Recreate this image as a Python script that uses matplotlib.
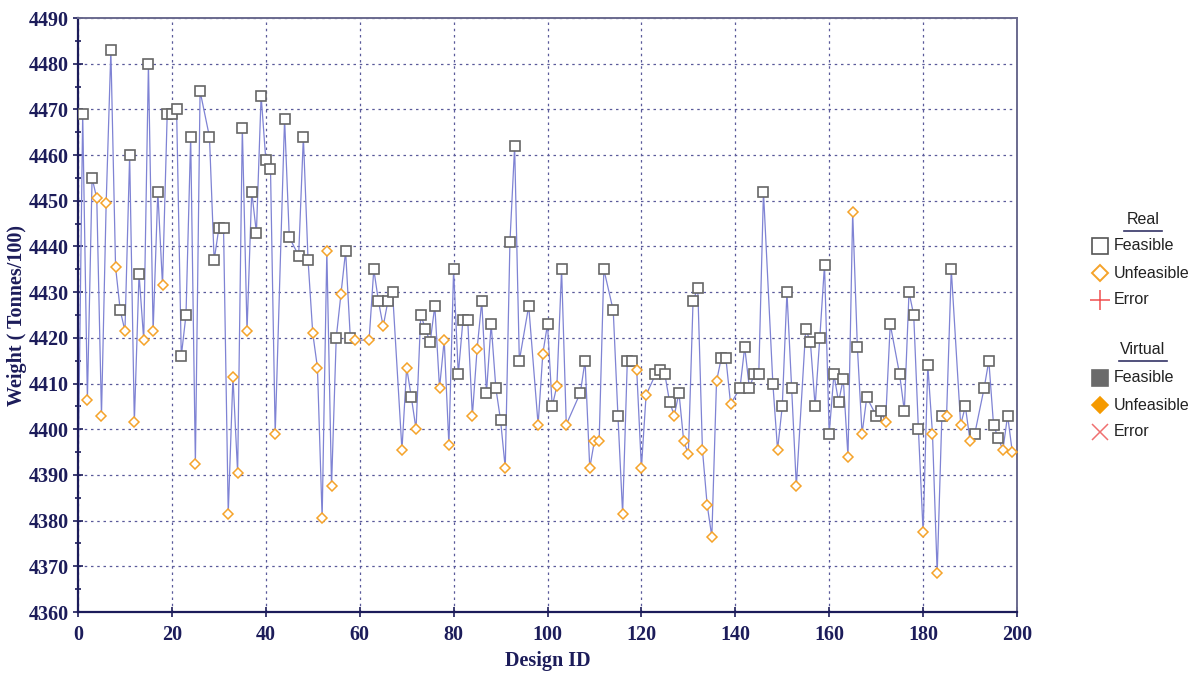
import matplotlib
matplotlib.use("Agg")
import matplotlib.pyplot as plt
import numpy as np

# design id, weight (tonnes/100), status: F = feasible, U = unfeasible, - = no marker
design_id = [0, 1, 2, 3, 4, 5, 6, 7, 8, 9,
             10, 11, 12, 13, 14, 15, 16, 17, 18, 19,
             20, 21, 22, 23, 24, 25, 26, 28, 29, 30,
             31, 32, 33, 34, 35, 36, 37, 38, 39, 40,
             41, 42, 44, 45, 47, 48, 49, 50, 51, 52,
             53, 54, 55, 56, 57, 58, 59, 62, 63, 64,
             65, 66, 67, 69, 70, 71, 72, 73, 74, 75,
             76, 77, 78, 79, 80, 81, 82, 83, 84, 85,
             86, 87, 88, 89, 90, 91, 92, 93, 94, 96,
             98, 99, 100, 101, 102, 103, 104, 107, 108, 109,
             110, 111, 112, 114, 115, 116, 117, 118, 119, 120,
             121, 123, 124, 125, 126, 127, 128, 129, 130, 131,
             132, 133, 134, 135, 136, 137, 138, 139, 141, 142,
             143, 144, 145, 146, 148, 149, 150, 151, 152, 153,
             155, 156, 157, 158, 159, 160, 161, 162, 163, 164,
             165, 166, 167, 168, 170, 171, 172, 173, 175, 176,
             177, 178, 179, 180, 181, 182, 183, 184, 185, 186,
             188, 189, 190, 191, 193, 194, 195, 196, 197, 198,
             199]
weight = [4388, 4469, 4406.5, 4455, 4450.5, 4403, 4449.5, 4483, 4435.5, 4426,
          4421.5, 4460, 4401.5, 4434, 4419.5, 4480, 4421.5, 4452, 4431.5, 4469,
          4469, 4470, 4416, 4425, 4464, 4392.5, 4474, 4464, 4437, 4444,
          4444, 4381.5, 4411.5, 4390.5, 4466, 4421.5, 4452, 4443, 4473, 4459,
          4457, 4399, 4468, 4442, 4438, 4464, 4437, 4421, 4413.5, 4380.5,
          4439, 4387.5, 4420, 4429.5, 4439, 4420, 4419.5, 4419.5, 4435, 4428,
          4422.5, 4428, 4430, 4395.5, 4413.5, 4407, 4400, 4425, 4422, 4419,
          4427, 4409, 4419.5, 4396.5, 4435, 4412, 4424, 4424, 4403, 4417.5,
          4428, 4408, 4423, 4409, 4402, 4391.5, 4441, 4462, 4415, 4427,
          4401, 4416.5, 4423, 4405, 4409.5, 4435, 4401, 4408, 4415, 4391.5,
          4397.5, 4397.5, 4435, 4426, 4403, 4381.5, 4415, 4415, 4413, 4391.5,
          4407.5, 4412, 4413, 4412, 4406, 4403, 4408, 4397.5, 4394.5, 4428,
          4431, 4395.5, 4383.5, 4376.5, 4410.5, 4415.5, 4415.5, 4405.5, 4409, 4418,
          4409, 4412, 4412, 4452, 4410, 4395.5, 4405, 4430, 4409, 4387.5,
          4422, 4419, 4405, 4420, 4436, 4399, 4412, 4406, 4411, 4394,
          4447.5, 4418, 4399, 4407, 4403, 4404, 4401.5, 4423, 4412, 4404,
          4430, 4425, 4400, 4377.5, 4414, 4399, 4368.5, 4403, 4403, 4435,
          4401, 4405, 4397.5, 4399, 4409, 4415, 4401, 4398, 4395.5, 4403,
          4395]
status = list("-FUFUUUFUF" "UFUFUFUFUF" "FFFFFUFFFF" "FUUUFUFFFF" "FUFFFFFUUU"
              "UUFUFFUUFF" "UFFUUFUFFF" "FUUUFFFFUU" "FFFFFUFFFF" "UUFFUFUFFU"
              "UUFFFUFFUU" "UFFFFUFUUF" "FUUUUFFUFF" "FFFFFUFFFU" "FFFFFFFFFU"
              "UFUFFFUFFF" "FFFUFUUFUF" "UFUFFFFFUF" "U")

x = np.array(design_id)
y = np.array(weight)
st = np.array(status)

navy = "#1c1c5a"
fig = plt.figure(figsize=(12, 6.73), dpi=100)
ax = fig.add_axes([78 / 1200, 1 - 612 / 673, (1017 - 78) / 1200, (612 - 18) / 673])

ax.plot(x, y, color="#7f83d4", lw=0.9, zorder=2)
f = st == "F"
u = st == "U"
ax.plot(x[f], y[f], ls="none", marker="s", ms=7.2, mfc="white", mec="#666666", mew=1.2, zorder=3)
ax.plot(x[u], y[u], ls="none", marker="D", ms=5.6, mfc="white", mec="#f5a32a", mew=1.1, zorder=3)

ax.set_xlim(0, 200)
ax.set_ylim(4360, 4490)
ax.set_xticks(np.arange(0, 201, 20))
ax.set_yticks(np.arange(4360, 4491, 10))
ax.set_yticks(np.arange(4365, 4490, 10), minor=True)
ax.grid(True, which="major", ls=(0, (2, 3)), color="#5a5a9a", lw=0.9)
for sp in ["left", "bottom"]:
    ax.spines[sp].set_color(navy)
    ax.spines[sp].set_linewidth(1.6)
for sp in ["top", "right"]:
    ax.spines[sp].set_color("#6a6a8e")
    ax.spines[sp].set_linewidth(1.4)
ax.tick_params(which="both", direction="inout", color=navy, labelcolor=navy, width=1.2)
ax.tick_params(which="major", length=7)
ax.tick_params(which="minor", length=5)
ax.tick_params(axis="x", pad=6)
ax.tick_params(axis="y", pad=3)
for lab in ax.get_xticklabels() + ax.get_yticklabels():
    lab.set_family("Liberation Serif")
    lab.set_fontweight("bold")
    lab.set_fontsize(14.5)
ax.set_xlabel("Design ID", family="Liberation Serif", fontweight="bold", fontsize=14.5,
              color=navy, labelpad=4)
ax.set_ylabel("Weight ( Tonnes/100)", family="Liberation Serif", fontweight="bold",
              fontsize=14.5, color=navy)
ax.yaxis.set_label_coords(-0.054, 0.5)

# legend on the right
lg = fig.add_axes([0, 0, 1, 1], facecolor="none")
lg.set_xlim(0, 1200)
lg.set_ylim(673, 0)
lg.axis("off")
txt = dict(family="Liberation Sans", fontsize=11.5, color="#222222", va="center")
for head, y0 in [("Real", 219), ("Virtual", 349)]:
    lg.text(1143, y0, head, ha="center", **txt)
    w = 19 if head == "Real" else 24
    lg.plot([1143 - w, 1143 + w], [y0 + 12, y0 + 12], color="#333366", lw=1.2)
lg.plot(1100, 246, marker="s", ms=11, mfc="white", mec="#555555", mew=1.2)
lg.plot(1100, 273, marker="D", ms=8.5, mfc="white", mec="#f5a32a", mew=1.4)
lg.plot(1100, 300, marker="+", ms=14, color="#f05050", mew=1.1)
lg.plot(1100, 378, marker="s", ms=11, mfc="#6a6a6a", mec="#6a6a6a", mew=1.2)
lg.plot(1100, 405, marker="D", ms=8.5, mfc="#f59a00", mec="#f59a00", mew=1.2)
lg.plot(1100, 432, marker="x", ms=11, color="#f07070", mew=1.1)
for yy, name in [(246, "Feasible"), (273, "Unfeasible"), (300, "Error"),
                 (378, "Feasible"), (405, "Unfeasible"), (432, "Error")]:
    lg.text(1114, yy, name, ha="left", **txt)

fig.savefig("out.png", dpi=100)
